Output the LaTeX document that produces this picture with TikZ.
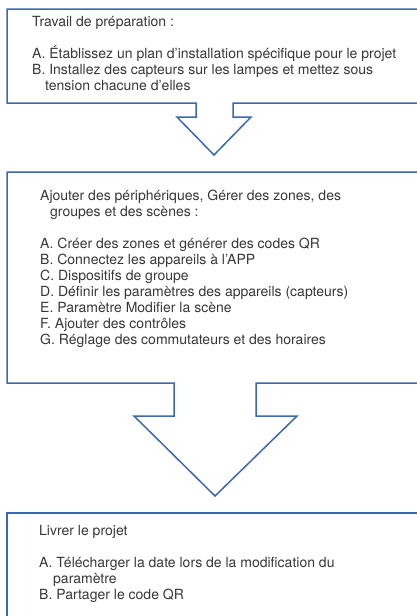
\documentclass[tikz,border=0pt]{standalone}
\usepackage{fontspec}
\setmainfont{TeX Gyre Heros}
\definecolor{bordblue}{RGB}{60,104,178}
\definecolor{txtgray}{RGB}{55,55,55}
\begin{document}
\begin{tikzpicture}[x=1pt,y=-1pt,
  outline/.style={draw=bordblue, line width=1.5pt, fill=white, line join=miter},
  txt/.style={anchor=base west, inner sep=0pt, text=txtgray, font=\fontsize{14}{16}\selectfont}]
\useasboundingbox (0,0) rectangle (417,616);
% box 1 with arrow
\draw[outline] (430,9) -- (7,9) -- (7,103) -- (196,103) -- (196,117) -- (177,117)
  -- (214,155) -- (251,117) -- (233,117) -- (233,103) -- (430,103);
\node[txt] (b1t) at (32,26) {Travail de préparation :};
\node[txt] (b1a) at (32,58) {A. Établissez un plan d’installation spécifique pour le projet};
\node[txt] (b1b) at (32,74) {B. Installez des capteurs sur les lampes et mettez sous};
\node[txt] (b1c) at (45,90) {tension chacune d’elles};
% box 2 with arrow
\draw[outline] (430,172) -- (7,172) -- (7,383) -- (174,383) -- (174,416) -- (134,416)
  -- (215,496) -- (297,416) -- (256,416) -- (256,383) -- (430,383);
\node[txt] (b2t) at (40,200) {Ajouter des périphériques, Gérer des zones, des};
\node[txt] (b2u) at (50,216) {groupes et des scènes :};
\node[txt] (b2a) at (40,248) {A. Créer des zones et générer des codes QR};
\node[txt] (b2b) at (40,264) {B. Connectez les appareils à l’APP};
\node[txt] (b2c) at (40,280) {C. Dispositifs de groupe};
\node[txt] (b2d) at (40,296) {D. Définir les paramètres des appareils (capteurs)};
\node[txt] (b2e) at (40,312) {E. Paramètre Modifier la scène};
\node[txt] (b2f) at (40,328) {F. Ajouter des contrôles};
\node[txt] (b2g) at (40,344) {G. Réglage des commutateurs et des horaires};
% box 3
\draw[outline] (430,513) -- (7,513) -- (7,630);
\node[txt] (b3t) at (39,535) {Livrer le projet};
\node[txt] (b3a) at (39,567) {A. Télécharger la date lors de la modification du};
\node[txt] (b3b) at (53,583) {paramètre};
\node[txt] (b3c) at (39,599) {B. Partager le code QR};
\end{tikzpicture}
\end{document}
